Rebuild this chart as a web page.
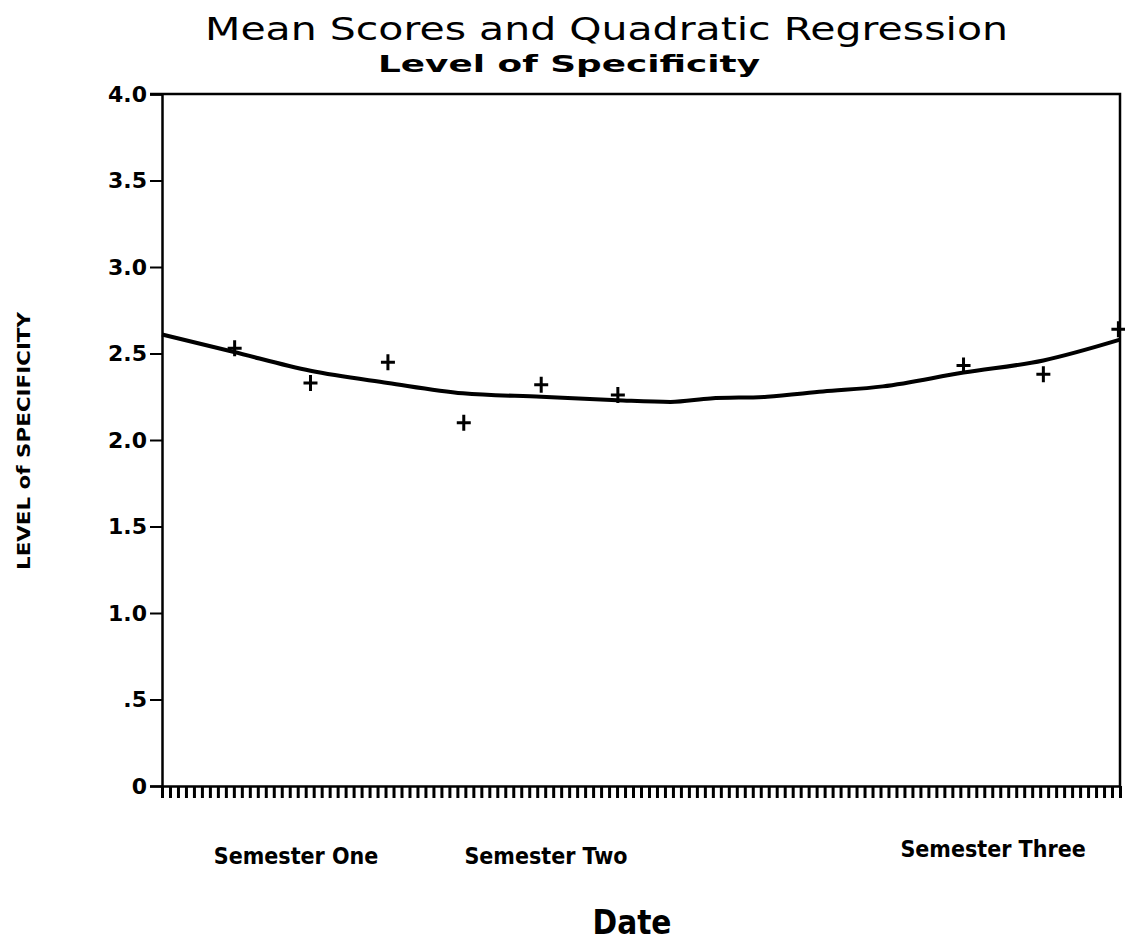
<!DOCTYPE html>
<html>
<head>
<meta charset="utf-8">
<script src="https://cdn.jsdelivr.net/npm/d3@7"></script>
<style>
  body { margin: 0; background: #ffffff; }
</style>
</head>
<body>
<script>
// Observed mean scores (x = day index along the date axis)
const pointDays = [9.1, 18.6, 28.3, 37.8, 47.5, 57.1, 100.4, 110.4, 119.8];
const pointScores = [2.53, 2.33, 2.45, 2.10, 2.32, 2.26, 2.43, 2.38, 2.64];

// Regression curve
const curveDays = [0, 8.9, 18.6, 28.3, 37.7, 47.5, 57, 63.7, 68.7, 75.8, 82.8, 90.3, 100.4, 110.4, 120];
const curveScores = [2.61, 2.51, 2.40, 2.33, 2.27, 2.25, 2.23, 2.22, 2.24, 2.25, 2.28, 2.31, 2.39, 2.46, 2.58];

// Tick labels
const yTicks = [0, 0.5, 1.0, 1.5, 2.0, 2.5, 3.0, 3.5, 4.0];
const semesterLabels = ["Semester One", "Semester Two", "Semester Three"];
const semesterDays = [16.8, 48.1, 104.1];

const width = 1125;
const height = 950;
const margin = { top: 94, right: 5, bottom: 164, left: 162 };

const svg = d3
  .select("body")
  .append("svg")
  .attr("width", width)
  .attr("height", height)
  .style("display", "block");

const x = d3
  .scaleLinear()
  .domain([0, 120])
  .range([margin.left, width - margin.right]);

const y = d3
  .scaleLinear()
  .domain([0, 4])
  .range([height - margin.bottom, margin.top]);

// Frame: top and right borders
svg
  .append("path")
  .attr("d", `M${x(0) - 12},${y(4)} H${x(120)} V${y(0)}`)
  .attr("fill", "none")
  .attr("stroke", "#000")
  .attr("stroke-width", 2.5);

// y-axis
const yAxis = svg
  .append("g")
  .attr("class", "y-axis")
  .attr("transform", `translate(${x(0)},0)`)
  .call(
    d3
      .axisLeft(y)
      .tickValues(yTicks)
      .tickSize(12)
      .tickPadding(3)
      .tickFormat((d) => (d === 0 ? "0" : d < 1 ? ".5" : d3.format(".1f")(d)))
  );

yAxis.select(".domain").attr("stroke-width", 2.5);
yAxis.selectAll("line").attr("stroke-width", 2);
yAxis
  .selectAll("text")
  .style("font-family", "DejaVu Sans")
  .style("font-size", "22px")
  .style("font-weight", "bold")
  .attr("fill", "#000");

// x-axis with a dense row of small ticks
const xAxis = svg
  .append("g")
  .attr("class", "x-axis")
  .attr("transform", `translate(0,${y(0)})`)
  .call(
    d3
      .axisBottom(x)
      .tickValues(d3.range(0, 121))
      .tickSize(12)
      .tickSizeOuter(0)
      .tickFormat("")
  );

xAxis.select(".domain").attr("stroke-width", 2.5);
xAxis.selectAll("line").attr("stroke-width", 3);

// Regression curve
const line = d3
  .line()
  .x((d, i) => x(curveDays[i]))
  .y((d) => y(d))
  .curve(d3.curveMonotoneX);

svg
  .append("path")
  .datum(curveScores)
  .attr("d", line)
  .attr("fill", "none")
  .attr("stroke", "#000")
  .attr("stroke-width", 4);

// Plus markers for the mean scores
svg
  .selectAll(".pt")
  .data(pointScores)
  .enter()
  .append("path")
  .attr("class", "pt")
  .attr("d", (d, i) => {
    const cx = x(pointDays[i]);
    const cy = y(d);
    return `M${cx - 7},${cy} H${cx + 7} M${cx},${cy - 8} V${cy + 8}`;
  })
  .attr("stroke", "#000")
  .attr("stroke-width", 3)
  .attr("fill", "none");

// Semester labels
svg
  .selectAll(".sem")
  .data(semesterLabels)
  .enter()
  .append("text")
  .attr("class", "sem")
  .attr("x", (d, i) => x(semesterDays[i]))
  .attr("y", (d, i) => (i === 2 ? 857 : 864))
  .attr("text-anchor", "middle")
  .style("font-family", "DejaVu Sans Condensed")
  .style("font-size", "23px")
  .style("font-weight", "bold")
  .text((d) => d);

// Titles
svg
  .append("text")
  .attr("x", 205)
  .attr("y", 40)
  .attr("textLength", 803)
  .attr("lengthAdjust", "spacingAndGlyphs")
  .style("font-family", "DejaVu Sans")
  .style("font-size", "32px")
  .text("Mean Scores and Quadratic Regression");

svg
  .append("text")
  .attr("x", 378)
  .attr("y", 72)
  .attr("textLength", 382)
  .attr("lengthAdjust", "spacingAndGlyphs")
  .style("font-family", "DejaVu Sans")
  .style("font-size", "23px")
  .style("font-weight", "bold")
  .text("Level of Specificity");

// Axis titles
svg
  .append("text")
  .attr("x", 632)
  .attr("y", 934)
  .attr("text-anchor", "middle")
  .style("font-family", "DejaVu Sans Condensed")
  .style("font-size", "33px")
  .style("font-weight", "bold")
  .text("Date");

svg
  .append("text")
  .attr("transform", "translate(30,441) rotate(-90)")
  .attr("text-anchor", "middle")
  .attr("textLength", 258)
  .attr("lengthAdjust", "spacingAndGlyphs")
  .style("font-family", "DejaVu Sans Condensed")
  .style("font-size", "18px")
  .style("font-weight", "bold")
  .text("LEVEL of SPECIFICITY");
</script>
</body>
</html>
